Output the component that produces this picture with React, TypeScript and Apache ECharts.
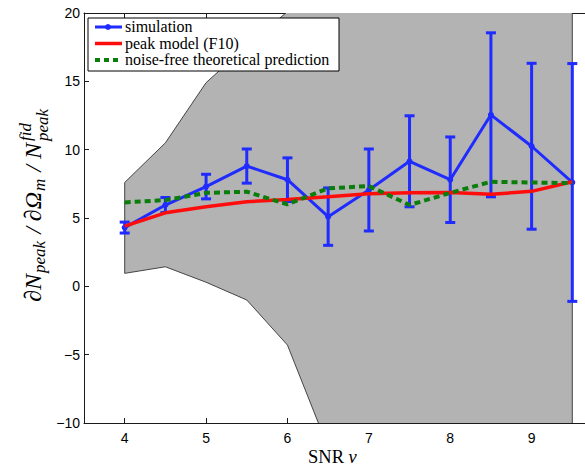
import React, { useEffect, useRef } from "react";
import * as echarts from "echarts";

// ---- data ----
const snr = [4, 4.5, 5, 5.5, 6, 6.5, 7, 7.5, 8, 8.5, 9, 9.5];
const simMean = [4.3, 5.95, 7.3, 8.8, 7.8, 5.1, 7.05, 9.15, 7.8, 12.55, 10.25, 7.6];
const simErr = [0.4, 0.55, 0.9, 1.25, 1.6, 2.1, 3.0, 3.33, 3.13, 6.0, 6.07, 8.7];
const peakModel = [4.4, 5.38, 5.82, 6.19, 6.36, 6.55, 6.78, 6.84, 6.86, 6.73, 6.95, 7.65];
const noiseFree = [6.14, 6.31, 6.84, 6.92, 6.0, 7.17, 7.34, 5.95, 6.84, 7.65, 7.6, 7.55];

// gray band (clipped by the plot area)
const bandUpperX = [4, 4.5, 5, 5.5, 6, 6.5, 9.5];
const bandUpperY = [7.6, 10.5, 14.9, 17.6, 20.1, 23, 30];
const bandLowerX = [4, 4.5, 5, 5.5, 6, 6.5, 9.5];
const bandLowerY = [0.95, 1.43, 0.3, -1.0, -4.3, -11.8, -30];

const xTicks = [4, 5, 6, 7, 8, 9, 10];
const xLabels = [4, 5, 6, 7, 8, 9];
const legendNames = ["simulation", "peak model (F10)", "noise-free theoretical prediction"];

const BLUE = "#1f2bff";
const RED = "#ff0d0d";
const GREEN = "#0a7d0a";
const SANS = "Liberation Sans, Arial, sans-serif";
const SERIF = "Liberation Serif, Times New Roman, serif";

export default function App() {
  const ref = useRef<HTMLDivElement>(null);
  useEffect(() => {
    if (!ref.current) return;
    const chart = echarts.init(ref.current, null, { renderer: "svg" });
    const errData = snr.map((x, i) => [x, simMean[i] - simErr[i], simMean[i] + simErr[i]]);
    const axisLine = { show: true, onZero: false, lineStyle: { color: "#1a1a1a", width: 1 } };
    const legendText = (text: string, y: number) => ({
      type: "text", z: 101, x: 125, y,
      style: { text, fill: "#000", fontFamily: SERIF, fontSize: 16, lineHeight: 14, verticalAlign: "middle" },
    });
    const option: any = {
      animation: false,
      grid: { left: 84, top: 13, right: -28, bottom: 45, containLabel: false, outerBoundsMode: "none" },
      xAxis: [
        {
          type: "value", min: 3.5, max: 10, position: "bottom",
          axisLine, splitLine: { show: false },
          axisTick: { show: true, inside: true, length: 5, customValues: xTicks, lineStyle: { color: "#1a1a1a" } },
          axisLabel: { show: true, customValues: xLabels, color: "#000", fontFamily: SANS, fontSize: 14, margin: 8 },
        },
        {
          type: "value", min: 3.5, max: 10, position: "top",
          axisLine, splitLine: { show: false },
          axisTick: { show: true, inside: true, length: 5, customValues: xTicks, lineStyle: { color: "#1a1a1a" } },
          axisLabel: { show: false },
        },
      ],
      yAxis: {
        type: "value", min: -10, max: 20, interval: 5,
        axisLine, splitLine: { show: false },
        axisTick: { show: true, inside: true, length: 5, lineStyle: { color: "#1a1a1a" } },
        axisLabel: {
          color: "#000", fontFamily: SANS, fontSize: 14, margin: 4,
          formatter: (v: number) => String(v).replace("-", "\u2212"),
        },
      },
      series: [
        {
          type: "custom", name: "band", clip: true, z: 1,
          data: [[4, 0]],
          renderItem: (params: any, api: any) => {
            const pts: number[][] = [];
            bandUpperX.forEach((x, i) => pts.push(api.coord([x, bandUpperY[i]])));
            for (let i = bandLowerX.length - 1; i >= 0; i--) pts.push(api.coord([bandLowerX[i], bandLowerY[i]]));
            return {
              type: "polygon",
              shape: { points: pts },
              style: { fill: "#b3b3b3", stroke: "#333", lineWidth: 0.9 },
            };
          },
          silent: true,
        },
        {
          type: "custom", name: "errorbars", clip: true, z: 3,
          data: errData,
          encode: { x: 0, y: [1, 2] },
          renderItem: (params: any, api: any) => {
            const x = api.value(0);
            const lo = api.coord([x, api.value(1)]);
            const hi = api.coord([x, api.value(2)]);
            const w = 5;
            const st = { stroke: BLUE, lineWidth: 3 };
            return {
              type: "group",
              children: [
                { type: "line", shape: { x1: lo[0], y1: lo[1], x2: hi[0], y2: hi[1] }, style: st },
                { type: "line", shape: { x1: lo[0] - w, y1: lo[1], x2: lo[0] + w, y2: lo[1] }, style: st },
                { type: "line", shape: { x1: hi[0] - w, y1: hi[1], x2: hi[0] + w, y2: hi[1] }, style: st },
              ],
            };
          },
        },
        {
          type: "line", name: legendNames[0], z: 3,
          data: snr.map((x, i) => [x, simMean[i]]),
          symbol: "circle", symbolSize: 6, showSymbol: true,
          lineStyle: { color: BLUE, width: 3 }, itemStyle: { color: BLUE },
        },
        {
          type: "line", name: legendNames[1], z: 4, symbol: "none",
          data: snr.map((x, i) => [x, peakModel[i]]),
          lineStyle: { color: RED, width: 3.5 },
        },
        {
          type: "line", name: legendNames[2], z: 5, symbol: "none",
          data: snr.map((x, i) => [x, noiseFree[i]]),
          lineStyle: { color: GREEN, width: 4, type: [6, 4] },
        },
      ],
      graphic: [
        // legend
        {
          type: "rect", z: 100, shape: { x: 88, y: 18, width: 251, height: 53 },
          style: { fill: "#fff", stroke: "#000", lineWidth: 1 },
        },
        { type: "line", z: 101, shape: { x1: 95, y1: 27, x2: 122, y2: 27 }, style: { stroke: BLUE, lineWidth: 3 } },
        { type: "circle", z: 101, shape: { cx: 108, cy: 27, r: 3 }, style: { fill: BLUE } },
        { type: "line", z: 101, shape: { x1: 95, y1: 43.5, x2: 122, y2: 43.5 }, style: { stroke: RED, lineWidth: 3.5 } },
        { type: "line", z: 101, shape: { x1: 95, y1: 60, x2: 122, y2: 60 }, style: { stroke: GREEN, lineWidth: 4, lineDash: [5, 4] } },
        legendText(legendNames[0], 26.5),
        legendText(legendNames[1], 43),
        legendText(legendNames[2], 59.5),
        // x axis name
        {
          type: "text", z: 101, x: 308, y: 457,
          style: {
            text: "{r|SNR }{i|\u03bd}",
            verticalAlign: "middle",
            rich: {
              r: { fontFamily: SERIF, fontSize: 18.5, fill: "#000" },
              i: { fontFamily: SERIF, fontSize: 18.5, fontStyle: "italic", fill: "#000" },
            },
          },
        },
        // y axis name (rotated)
        {
          type: "group", x: 33, y: 219, rotation: Math.PI / 2, z: 101,
          children: [
            {
              type: "text", x: 76, y: 0,
              style: {
                text: "{m|\u2202N}{s|peak}{m| / \u2202\u03a9}{s|m}{m| / N}",
                align: "right", verticalAlign: "middle",
                rich: {
                  m: { fontFamily: SERIF, fontSize: 24, fontStyle: "italic", fill: "#000", verticalAlign: "middle" },
                  s: { fontFamily: SERIF, fontSize: 17, fontStyle: "italic", fill: "#000", padding: [12, 1, 0, 1] },
                },
              },
            },
            { type: "text", x: 78, y: -8, style: { text: "fid", font: `italic 17px ${SERIF}`, fill: "#000", verticalAlign: "middle" } },
            { type: "text", x: 78, y: 9, style: { text: "peak", font: `italic 17px ${SERIF}`, fill: "#000", verticalAlign: "middle" } },
          ],
        },
      ],
    };
    chart.setOption(option);
    return () => chart.dispose();
  }, []);
  return (
    <div
      ref={ref}
      style={{ position: "fixed", left: 0, top: 0, width: 585, height: 468, background: "#fff" }}
    />
  );
}
